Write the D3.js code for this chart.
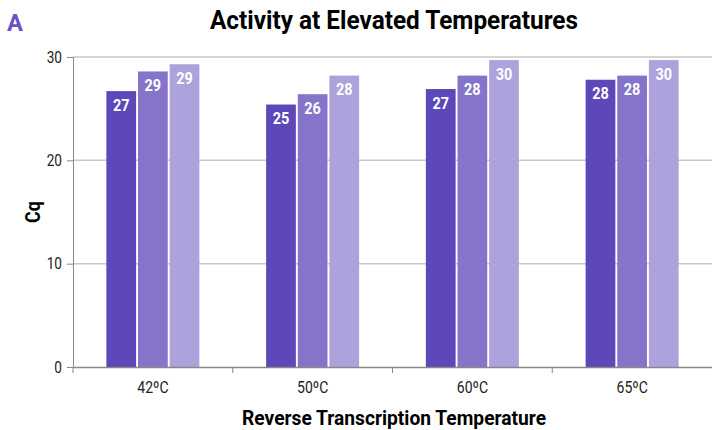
<!DOCTYPE html>
<html>
<head>
<meta charset="utf-8">
<script src="https://cdn.jsdelivr.net/npm/d3@7"></script>
<style>
  body { margin: 0; background: #fff; }
  svg text { font-family: Roboto, "Liberation Sans", sans-serif; }
</style>
</head>
<body>
<div id="chart"></div>
<script>
// chart data
var temperatures = ["42ºC", "50ºC", "60ºC", "65ºC"];
var series = ["s1", "s2", "s3"];
var cqS1 = [26.7, 25.4, 26.9, 27.8];
var cqS2 = [28.6, 26.4, 28.2, 28.2];
var cqS3 = [29.3, 28.2, 29.7, 29.7];
var yTicks = [0, 10, 20, 30];

var colors = ["#5e47b9", "#8674cb", "#ada2db"];

var W = 712, H = 430;
var margin = {top: 57, right: 0, bottom: 63, left: 73};
var width = W - margin.left - margin.right;
var height = H - margin.top - margin.bottom;

// squeeze text horizontally to mimic a condensed face
function condense(sel, k) {
  sel.each(function() {
    var w = this.getComputedTextLength();
    d3.select(this).attr("textLength", w * k).attr("lengthAdjust", "spacingAndGlyphs");
  });
}

var svg = d3.select("#chart").append("svg")
  .attr("width", W)
  .attr("height", H);

var g = svg.append("g")
  .attr("transform", "translate(" + margin.left + "," + margin.top + ")");

var x0 = d3.scaleBand().domain(temperatures).range([0, width]);
var groupW = 93;
var x1 = d3.scaleBand().domain(series).range([0, groupW]).paddingInner(0.06);
var y = d3.scaleLinear().domain([0, 30]).range([height, 0]);

// gridlines
g.selectAll(".grid")
  .data(yTicks.filter(function(d) { return d > 0; }))
  .enter().append("line")
  .attr("x1", 0).attr("x2", width)
  .attr("y1", function(d) { return y(d); })
  .attr("y2", function(d) { return y(d); })
  .attr("stroke", "#c8c8c8")
  .attr("stroke-width", 1.5);

// rows for bars
var rows = [];
temperatures.forEach(function(t, i) {
  [cqS1, cqS2, cqS3].forEach(function(arr, j) {
    rows.push({temp: t, s: series[j], v: arr[i], c: colors[j]});
  });
});

var off = (x0.bandwidth() - groupW) / 2;

g.selectAll("rect.bar")
  .data(rows)
  .enter().append("rect")
  .attr("class", "bar")
  .attr("x", function(d) { return x0(d.temp) + off + x1(d.s); })
  .attr("width", x1.bandwidth())
  .attr("y", function(d) { return y(d.v); })
  .attr("height", function(d) { return height - y(d.v); })
  .attr("fill", function(d) { return d.c; });

var lbl = g.selectAll("text.lbl")
  .data(rows)
  .enter().append("text")
  .attr("class", "lbl")
  .attr("x", function(d) { return x0(d.temp) + off + x1(d.s) + x1.bandwidth() / 2; })
  .attr("y", function(d) { return y(d.v) + 19.5; })
  .attr("text-anchor", "middle")
  .attr("fill", "#fff")
  .attr("font-weight", "bold")
  .attr("font-size", 17)
  .text(function(d) { return Math.round(d.v); });
condense(lbl, 0.85);

// y axis
var yAxis = g.append("g")
  .call(d3.axisLeft(y).tickValues(yTicks).tickSize(6).tickPadding(5));
yAxis.select(".domain").attr("stroke", "#888");
yAxis.selectAll(".tick line").attr("stroke", "#888");
var yt = yAxis.selectAll("text").attr("font-size", 16).attr("fill", "#222")
  .style("font-family", "Roboto");
condense(yt, 0.85);

// x axis
var xAxis = g.append("g")
  .attr("transform", "translate(0," + height + ")")
  .call(d3.axisBottom(x0).tickSize(0).tickPadding(14));
xAxis.select(".domain").attr("stroke", "#888").attr("stroke-width", 1.5);
var xt = xAxis.selectAll("text").attr("font-size", 16.5).attr("fill", "#222")
  .style("font-family", "Roboto");
condense(xt, 0.85);
// band boundary ticks
xAxis.selectAll(".bnd")
  .data(temperatures)
  .enter().append("line")
  .attr("x1", function(d) { return x0(d); })
  .attr("x2", function(d) { return x0(d); })
  .attr("y1", 0).attr("y2", 6)
  .attr("stroke", "#888");

// title
svg.append("text")
  .attr("x", 394).attr("y", 29)
  .attr("text-anchor", "middle")
  .attr("font-size", 25).attr("font-weight", "bold")
  .attr("textLength", 368).attr("lengthAdjust", "spacingAndGlyphs")
  .text("Activity at Elevated Temperatures");

svg.append("text")
  .attr("x", 7).attr("y", 31)
  .attr("font-size", 24).attr("font-weight", "bold")
  .attr("fill", "#6a52c4")
  .attr("textLength", 16).attr("lengthAdjust", "spacingAndGlyphs")
  .text("A");

// axis titles
svg.append("text")
  .attr("x", 394).attr("y", 425)
  .attr("text-anchor", "middle")
  .attr("font-size", 20).attr("font-weight", "bold")
  .attr("textLength", 304).attr("lengthAdjust", "spacingAndGlyphs")
  .text("Reverse Transcription Temperature");

var cq = svg.append("text")
  .attr("transform", "translate(40,212) rotate(-90)")
  .attr("text-anchor", "middle")
  .attr("font-size", 21).attr("font-weight", "bold")
  .text("Cq");
condense(cq, 0.85);
</script>
</body>
</html>
